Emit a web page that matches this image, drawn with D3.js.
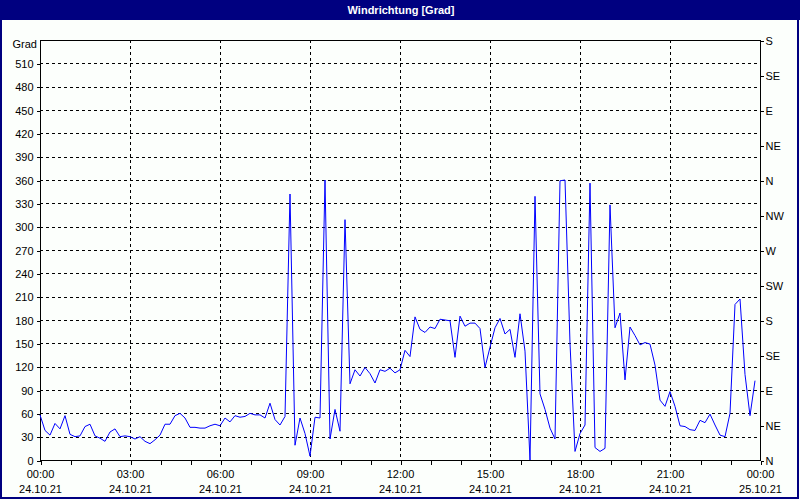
<!DOCTYPE html>
<html>
<head>
<meta charset="utf-8">
<script src="https://cdn.jsdelivr.net/npm/d3@7/dist/d3.min.js"></script>
<style>
  html, body { margin: 0; padding: 0; background: #fcfffc; }
  svg { display: block; }
  text { font-family: "Liberation Sans", Arial, sans-serif; }
</style>
</head>
<body>
<svg id="chart" width="800" height="500"></svg>
<script>
// ---- data ----
const title = "Windrichtung [Grad]";
const yUnit = "Grad";
const stepMinutes = 10; // one reading every 10 minutes, starting 24.10.21 00:00
const direction = [
  58, 38, 32, 47, 40, 57, 33, 30, 31, 43, 46, 31, 28, 24, 36, 40, 30, 31, 30, 27,
  30, 24, 21, 26, 32, 46, 46, 57, 60, 54, 42, 42, 41, 41, 44, 46, 44, 54, 49, 57,
  55, 56, 60, 58, 58, 54, 73, 52, 45, 56, 342, 19, 54, 34, 5, 55, 54, 360, 27, 65,
  37, 309, 98, 116, 108, 119, 111, 99, 116, 114, 118, 112, 116, 141, 133, 184, 168, 164, 171, 169,
  181, 180, 179, 132, 185, 172, 176, 176, 169, 119, 145, 170, 182, 162, 168, 132, 188, 140, 0, 339,
  85, 65, 41, 27, 359, 360, 150, 11, 34, 45, 356, 16, 11, 15, 328, 170, 189, 103, 171, 160,
  148, 151, 149, 122, 77, 69, 88, 69, 44, 43, 39, 38, 51, 48, 59, 45, 32, 30, 60, 200,
  207, 110, 57, 102
];
const leftTicks = [0, 30, 60, 90, 120, 150, 180, 210, 240, 270, 300, 330, 360, 390, 420, 450, 480, 510];
const rightTickValues = [0, 45, 90, 135, 180, 225, 270, 315, 360, 405, 450, 495, 540];
const rightTickLabels = ["N", "NE", "E", "SE", "S", "SW", "W", "NW", "N", "NE", "E", "SE", "S"];
const timeTickHours = [0, 3, 6, 9, 12, 15, 18, 21, 24];
const timeTickLabels = ["00:00", "03:00", "06:00", "09:00", "12:00", "15:00", "18:00", "21:00", "00:00"];
const dateTickLabels = ["24.10.21", "24.10.21", "24.10.21", "24.10.21", "24.10.21", "24.10.21", "24.10.21", "24.10.21", "25.10.21"];

// ---- layout ----
const W = 800, H = 500;
const plot = { left: 40, right: 760, top: 40, bottom: 460 };
const navy = "#000080";

const svg = d3.select("#chart");

// frame + title bar
svg.append("rect").attr("x", 0).attr("y", 0).attr("width", W).attr("height", H).attr("fill", "#fcfffc");
svg.append("rect").attr("x", 1).attr("y", 1).attr("width", W - 3).attr("height", H - 3)
  .attr("fill", "none").attr("stroke", navy).attr("stroke-width", 2).attr("shape-rendering", "crispEdges");
svg.append("rect").attr("x", 0).attr("y", 0).attr("width", W).attr("height", 20).attr("fill", navy);
svg.append("text").attr("x", 401).attr("y", 14).attr("text-anchor", "middle")
  .attr("fill", "#ffffff").attr("font-weight", "bold").attr("font-size", 11).text(title);

// scales
const x = d3.scaleLinear().domain([0, 24]).range([plot.left, plot.right]);
const y = d3.scaleLinear().domain([0, 540]).range([plot.bottom, plot.top]);

const g = svg.append("g").attr("shape-rendering", "crispEdges");

// horizontal grid
g.selectAll("line.hg").data(leftTicks.filter(d => d > 0)).join("line")
  .attr("x1", plot.left).attr("x2", plot.right)
  .attr("y1", d => Math.round(y(d)) + 0.5).attr("y2", d => Math.round(y(d)) + 0.5)
  .attr("stroke", "#000").attr("stroke-dasharray", "3,3");
// vertical grid
g.selectAll("line.vg").data(timeTickHours.filter(h => h > 0 && h < 24)).join("line")
  .attr("x1", d => x(d) + 0.5).attr("x2", d => x(d) + 0.5)
  .attr("y1", plot.top).attr("y2", plot.bottom)
  .attr("stroke", "#000").attr("stroke-dasharray", "3,3");

// left axis
const leftAxis = d3.axisLeft(y).tickValues(leftTicks).tickSize(4).tickPadding(3);
const la = svg.append("g").attr("transform", `translate(${plot.left + 0.5},0.5)`).call(leftAxis);
// right axis
const rightAxis = d3.axisRight(y).tickValues(rightTickValues).tickSize(3).tickPadding(2)
  .tickFormat((d, i) => rightTickLabels[i]);
const ra = svg.append("g").attr("transform", `translate(${plot.right + 0.5},0.5)`).call(rightAxis);
// bottom axis (hourly ticks)
const bottomAxis = d3.axisBottom(x).tickValues(d3.range(0, 25)).tickSize(4).tickFormat("");
const ba = svg.append("g").attr("transform", `translate(0.5,${plot.bottom + 0.5})`).call(bottomAxis);

[la, ra, ba].forEach(a => {
  a.attr("shape-rendering", "crispEdges");
  a.select(".domain").attr("stroke", "#000");
  a.selectAll(".tick line").attr("stroke", "#000");
  a.selectAll("text").attr("fill", "#000").attr("font-size", 11)
    .attr("font-family", "'Liberation Sans', Arial, sans-serif");
});
ra.select(".domain").attr("d", `M0,${plot.top}V${plot.bottom}`);
la.select(".domain").attr("d", `M0,${plot.top}V${plot.bottom}`);
ba.select(".domain").attr("d", `M${plot.left},0H${plot.right}`);

// top border
svg.append("line").attr("x1", plot.left).attr("x2", plot.right + 1)
  .attr("y1", plot.top + 0.5).attr("y2", plot.top + 0.5).attr("stroke", "#000")
  .attr("shape-rendering", "crispEdges");

// time labels
const tl = svg.append("g").attr("font-size", 11).attr("fill", "#000").attr("text-anchor", "middle");
tl.selectAll("text.t").data(timeTickHours).join("text")
  .attr("x", d => x(d) + 0.5).attr("y", 478).text((d, i) => timeTickLabels[i]);
tl.selectAll("text.dt").data(timeTickHours).join("text").attr("class", "dt")
  .attr("x", d => x(d) + 0.5).attr("y", 493).text((d, i) => dateTickLabels[i]);

// unit label
svg.append("text").attr("x", 37).attr("y", 48).attr("text-anchor", "end")
  .attr("font-size", 11).attr("fill", "#000").text(yUnit);

// line
const line = d3.line()
  .x((d, i) => x(i * stepMinutes / 60))
  .y(d => y(d));
svg.append("path").datum(direction).attr("d", line)
  .attr("fill", "none").attr("stroke", "#0000ff").attr("stroke-width", 1);
</script>
</body>
</html>
